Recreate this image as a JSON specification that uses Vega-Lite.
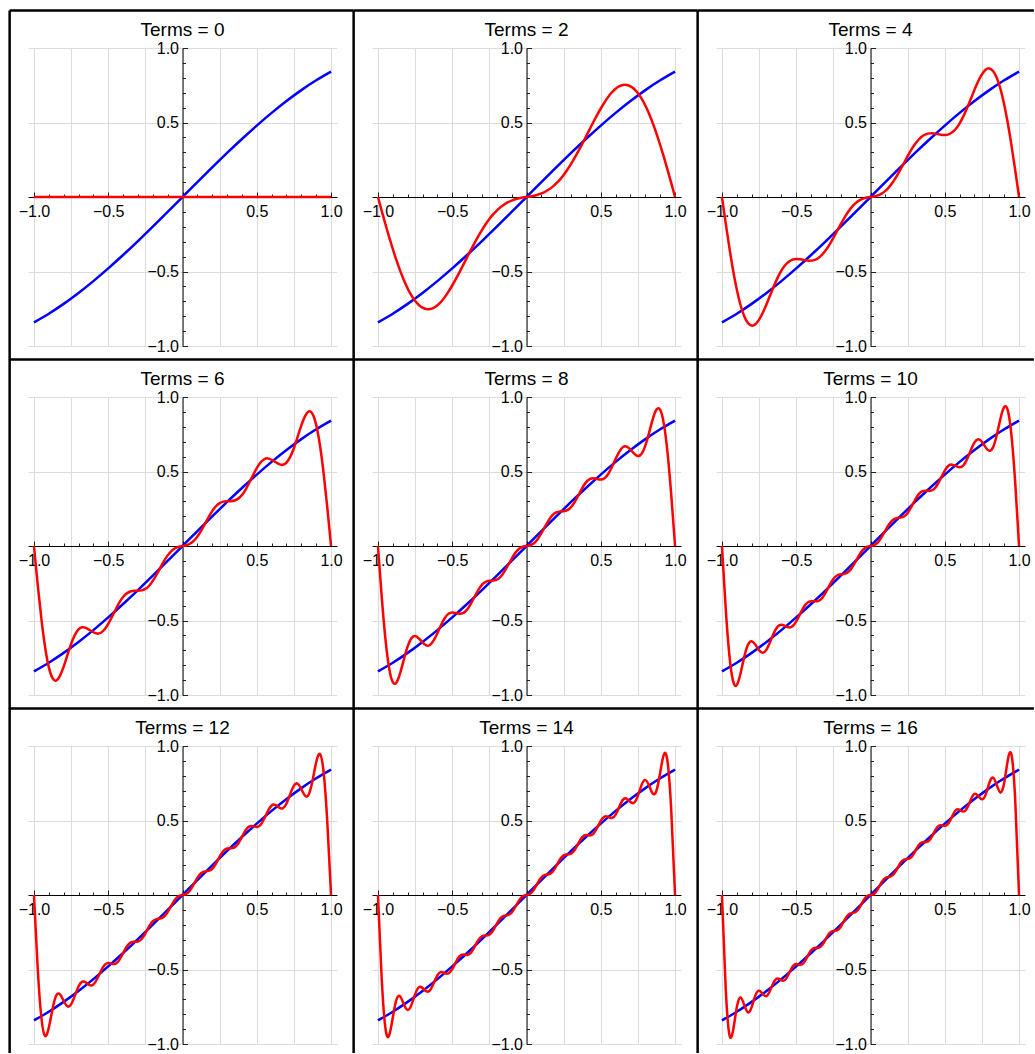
{
"$schema": "https://vega.github.io/schema/vega-lite/v6.json",
"padding": {"left": 8, "top": 8, "right": 0, "bottom": 0},
"background": "white",
"config": {"view": {"stroke": null}, "axis": {"labelFont": "Liberation Sans", "title": null}, "header": {"labels": false, "labelExpr": "''", "labelFontSize": 1, "labelPadding": 0, "titlePadding": 0, "labelColor": "transparent"}},
"data": {"values": [
{"N":0,"s":"f","label":"Terms = 0"},{"N":2,"s":"f","label":"Terms = 2"},{"N":4,"s":"f","label":"Terms = 4"},{"N":6,"s":"f","label":"Terms = 6"},{"N":8,"s":"f","label":"Terms = 8"},{"N":10,"s":"f","label":"Terms = 10"},{"N":12,"s":"f","label":"Terms = 12"},{"N":14,"s":"f","label":"Terms = 14"},{"N":16,"s":"f","label":"Terms = 16"},
{"N":0,"s":"b","x":-1,"y":-0.8415},{"N":0,"s":"b","x":-0.9,"y":-0.7833},{"N":0,"s":"b","x":-0.8,"y":-0.7174},{"N":0,"s":"b","x":-0.7,"y":-0.6442},{"N":0,"s":"b","x":-0.6,"y":-0.5646},{"N":0,"s":"b","x":-0.5,"y":-0.4794},{"N":0,"s":"b","x":-0.4,"y":-0.3894},{"N":0,"s":"b","x":-0.3,"y":-0.2955},{"N":0,"s":"b","x":-0.2,"y":-0.1987},{"N":0,"s":"b","x":-0.1,"y":-0.0998},{"N":0,"s":"b","x":0,"y":0},{"N":0,"s":"b","x":0.1,"y":0.0998},{"N":0,"s":"b","x":0.2,"y":0.1987},{"N":0,"s":"b","x":0.3,"y":0.2955},{"N":0,"s":"b","x":0.4,"y":0.3894},{"N":0,"s":"b","x":0.5,"y":0.4794},{"N":0,"s":"b","x":0.6,"y":0.5646},{"N":0,"s":"b","x":0.7,"y":0.6442},{"N":0,"s":"b","x":0.8,"y":0.7174},{"N":0,"s":"b","x":0.9,"y":0.7833},{"N":0,"s":"b","x":1,"y":0.8415},
{"N":2,"s":"b","x":-1,"y":-0.8415},{"N":2,"s":"b","x":-0.9,"y":-0.7833},{"N":2,"s":"b","x":-0.8,"y":-0.7174},{"N":2,"s":"b","x":-0.7,"y":-0.6442},{"N":2,"s":"b","x":-0.6,"y":-0.5646},{"N":2,"s":"b","x":-0.5,"y":-0.4794},{"N":2,"s":"b","x":-0.4,"y":-0.3894},{"N":2,"s":"b","x":-0.3,"y":-0.2955},{"N":2,"s":"b","x":-0.2,"y":-0.1987},{"N":2,"s":"b","x":-0.1,"y":-0.0998},{"N":2,"s":"b","x":0,"y":0},{"N":2,"s":"b","x":0.1,"y":0.0998},{"N":2,"s":"b","x":0.2,"y":0.1987},{"N":2,"s":"b","x":0.3,"y":0.2955},{"N":2,"s":"b","x":0.4,"y":0.3894},{"N":2,"s":"b","x":0.5,"y":0.4794},{"N":2,"s":"b","x":0.6,"y":0.5646},{"N":2,"s":"b","x":0.7,"y":0.6442},{"N":2,"s":"b","x":0.8,"y":0.7174},{"N":2,"s":"b","x":0.9,"y":0.7833},{"N":2,"s":"b","x":1,"y":0.8415},
{"N":4,"s":"b","x":-1,"y":-0.8415},{"N":4,"s":"b","x":-0.9,"y":-0.7833},{"N":4,"s":"b","x":-0.8,"y":-0.7174},{"N":4,"s":"b","x":-0.7,"y":-0.6442},{"N":4,"s":"b","x":-0.6,"y":-0.5646},{"N":4,"s":"b","x":-0.5,"y":-0.4794},{"N":4,"s":"b","x":-0.4,"y":-0.3894},{"N":4,"s":"b","x":-0.3,"y":-0.2955},{"N":4,"s":"b","x":-0.2,"y":-0.1987},{"N":4,"s":"b","x":-0.1,"y":-0.0998},{"N":4,"s":"b","x":0,"y":0},{"N":4,"s":"b","x":0.1,"y":0.0998},{"N":4,"s":"b","x":0.2,"y":0.1987},{"N":4,"s":"b","x":0.3,"y":0.2955},{"N":4,"s":"b","x":0.4,"y":0.3894},{"N":4,"s":"b","x":0.5,"y":0.4794},{"N":4,"s":"b","x":0.6,"y":0.5646},{"N":4,"s":"b","x":0.7,"y":0.6442},{"N":4,"s":"b","x":0.8,"y":0.7174},{"N":4,"s":"b","x":0.9,"y":0.7833},{"N":4,"s":"b","x":1,"y":0.8415},
{"N":6,"s":"b","x":-1,"y":-0.8415},{"N":6,"s":"b","x":-0.9,"y":-0.7833},{"N":6,"s":"b","x":-0.8,"y":-0.7174},{"N":6,"s":"b","x":-0.7,"y":-0.6442},{"N":6,"s":"b","x":-0.6,"y":-0.5646},{"N":6,"s":"b","x":-0.5,"y":-0.4794},{"N":6,"s":"b","x":-0.4,"y":-0.3894},{"N":6,"s":"b","x":-0.3,"y":-0.2955},{"N":6,"s":"b","x":-0.2,"y":-0.1987},{"N":6,"s":"b","x":-0.1,"y":-0.0998},{"N":6,"s":"b","x":0,"y":0},{"N":6,"s":"b","x":0.1,"y":0.0998},{"N":6,"s":"b","x":0.2,"y":0.1987},{"N":6,"s":"b","x":0.3,"y":0.2955},{"N":6,"s":"b","x":0.4,"y":0.3894},{"N":6,"s":"b","x":0.5,"y":0.4794},{"N":6,"s":"b","x":0.6,"y":0.5646},{"N":6,"s":"b","x":0.7,"y":0.6442},{"N":6,"s":"b","x":0.8,"y":0.7174},{"N":6,"s":"b","x":0.9,"y":0.7833},{"N":6,"s":"b","x":1,"y":0.8415},
{"N":8,"s":"b","x":-1,"y":-0.8415},{"N":8,"s":"b","x":-0.9,"y":-0.7833},{"N":8,"s":"b","x":-0.8,"y":-0.7174},{"N":8,"s":"b","x":-0.7,"y":-0.6442},{"N":8,"s":"b","x":-0.6,"y":-0.5646},{"N":8,"s":"b","x":-0.5,"y":-0.4794},{"N":8,"s":"b","x":-0.4,"y":-0.3894},{"N":8,"s":"b","x":-0.3,"y":-0.2955},{"N":8,"s":"b","x":-0.2,"y":-0.1987},{"N":8,"s":"b","x":-0.1,"y":-0.0998},{"N":8,"s":"b","x":0,"y":0},{"N":8,"s":"b","x":0.1,"y":0.0998},{"N":8,"s":"b","x":0.2,"y":0.1987},{"N":8,"s":"b","x":0.3,"y":0.2955},{"N":8,"s":"b","x":0.4,"y":0.3894},{"N":8,"s":"b","x":0.5,"y":0.4794},{"N":8,"s":"b","x":0.6,"y":0.5646},{"N":8,"s":"b","x":0.7,"y":0.6442},{"N":8,"s":"b","x":0.8,"y":0.7174},{"N":8,"s":"b","x":0.9,"y":0.7833},{"N":8,"s":"b","x":1,"y":0.8415},
{"N":10,"s":"b","x":-1,"y":-0.8415},{"N":10,"s":"b","x":-0.9,"y":-0.7833},{"N":10,"s":"b","x":-0.8,"y":-0.7174},{"N":10,"s":"b","x":-0.7,"y":-0.6442},{"N":10,"s":"b","x":-0.6,"y":-0.5646},{"N":10,"s":"b","x":-0.5,"y":-0.4794},{"N":10,"s":"b","x":-0.4,"y":-0.3894},{"N":10,"s":"b","x":-0.3,"y":-0.2955},{"N":10,"s":"b","x":-0.2,"y":-0.1987},{"N":10,"s":"b","x":-0.1,"y":-0.0998},{"N":10,"s":"b","x":0,"y":0},{"N":10,"s":"b","x":0.1,"y":0.0998},{"N":10,"s":"b","x":0.2,"y":0.1987},{"N":10,"s":"b","x":0.3,"y":0.2955},{"N":10,"s":"b","x":0.4,"y":0.3894},{"N":10,"s":"b","x":0.5,"y":0.4794},{"N":10,"s":"b","x":0.6,"y":0.5646},{"N":10,"s":"b","x":0.7,"y":0.6442},{"N":10,"s":"b","x":0.8,"y":0.7174},{"N":10,"s":"b","x":0.9,"y":0.7833},{"N":10,"s":"b","x":1,"y":0.8415},
{"N":12,"s":"b","x":-1,"y":-0.8415},{"N":12,"s":"b","x":-0.9,"y":-0.7833},{"N":12,"s":"b","x":-0.8,"y":-0.7174},{"N":12,"s":"b","x":-0.7,"y":-0.6442},{"N":12,"s":"b","x":-0.6,"y":-0.5646},{"N":12,"s":"b","x":-0.5,"y":-0.4794},{"N":12,"s":"b","x":-0.4,"y":-0.3894},{"N":12,"s":"b","x":-0.3,"y":-0.2955},{"N":12,"s":"b","x":-0.2,"y":-0.1987},{"N":12,"s":"b","x":-0.1,"y":-0.0998},{"N":12,"s":"b","x":0,"y":0},{"N":12,"s":"b","x":0.1,"y":0.0998},{"N":12,"s":"b","x":0.2,"y":0.1987},{"N":12,"s":"b","x":0.3,"y":0.2955},{"N":12,"s":"b","x":0.4,"y":0.3894},{"N":12,"s":"b","x":0.5,"y":0.4794},{"N":12,"s":"b","x":0.6,"y":0.5646},{"N":12,"s":"b","x":0.7,"y":0.6442},{"N":12,"s":"b","x":0.8,"y":0.7174},{"N":12,"s":"b","x":0.9,"y":0.7833},{"N":12,"s":"b","x":1,"y":0.8415},
{"N":14,"s":"b","x":-1,"y":-0.8415},{"N":14,"s":"b","x":-0.9,"y":-0.7833},{"N":14,"s":"b","x":-0.8,"y":-0.7174},{"N":14,"s":"b","x":-0.7,"y":-0.6442},{"N":14,"s":"b","x":-0.6,"y":-0.5646},{"N":14,"s":"b","x":-0.5,"y":-0.4794},{"N":14,"s":"b","x":-0.4,"y":-0.3894},{"N":14,"s":"b","x":-0.3,"y":-0.2955},{"N":14,"s":"b","x":-0.2,"y":-0.1987},{"N":14,"s":"b","x":-0.1,"y":-0.0998},{"N":14,"s":"b","x":0,"y":0},{"N":14,"s":"b","x":0.1,"y":0.0998},{"N":14,"s":"b","x":0.2,"y":0.1987},{"N":14,"s":"b","x":0.3,"y":0.2955},{"N":14,"s":"b","x":0.4,"y":0.3894},{"N":14,"s":"b","x":0.5,"y":0.4794},{"N":14,"s":"b","x":0.6,"y":0.5646},{"N":14,"s":"b","x":0.7,"y":0.6442},{"N":14,"s":"b","x":0.8,"y":0.7174},{"N":14,"s":"b","x":0.9,"y":0.7833},{"N":14,"s":"b","x":1,"y":0.8415},
{"N":16,"s":"b","x":-1,"y":-0.8415},{"N":16,"s":"b","x":-0.9,"y":-0.7833},{"N":16,"s":"b","x":-0.8,"y":-0.7174},{"N":16,"s":"b","x":-0.7,"y":-0.6442},{"N":16,"s":"b","x":-0.6,"y":-0.5646},{"N":16,"s":"b","x":-0.5,"y":-0.4794},{"N":16,"s":"b","x":-0.4,"y":-0.3894},{"N":16,"s":"b","x":-0.3,"y":-0.2955},{"N":16,"s":"b","x":-0.2,"y":-0.1987},{"N":16,"s":"b","x":-0.1,"y":-0.0998},{"N":16,"s":"b","x":0,"y":0},{"N":16,"s":"b","x":0.1,"y":0.0998},{"N":16,"s":"b","x":0.2,"y":0.1987},{"N":16,"s":"b","x":0.3,"y":0.2955},{"N":16,"s":"b","x":0.4,"y":0.3894},{"N":16,"s":"b","x":0.5,"y":0.4794},{"N":16,"s":"b","x":0.6,"y":0.5646},{"N":16,"s":"b","x":0.7,"y":0.6442},{"N":16,"s":"b","x":0.8,"y":0.7174},{"N":16,"s":"b","x":0.9,"y":0.7833},{"N":16,"s":"b","x":1,"y":0.8415},
{"N":0,"s":"r","x":-1,"y":0},{"N":0,"s":"r","x":0,"y":0},{"N":0,"s":"r","x":1,"y":0},
{"N":2,"s":"r","x":-1,"y":0},{"N":2,"s":"r","x":-0.975,"y":-0.091},{"N":2,"s":"r","x":-0.95,"y":-0.181},{"N":2,"s":"r","x":-0.925,"y":-0.267},{"N":2,"s":"r","x":-0.9,"y":-0.349},{"N":2,"s":"r","x":-0.875,"y":-0.426},{"N":2,"s":"r","x":-0.85,"y":-0.496},{"N":2,"s":"r","x":-0.825,"y":-0.559},{"N":2,"s":"r","x":-0.8,"y":-0.614},{"N":2,"s":"r","x":-0.775,"y":-0.66},{"N":2,"s":"r","x":-0.75,"y":-0.697},{"N":2,"s":"r","x":-0.725,"y":-0.725},{"N":2,"s":"r","x":-0.7,"y":-0.743},{"N":2,"s":"r","x":-0.675,"y":-0.752},{"N":2,"s":"r","x":-0.65,"y":-0.752},{"N":2,"s":"r","x":-0.625,"y":-0.744},{"N":2,"s":"r","x":-0.6,"y":-0.727},{"N":2,"s":"r","x":-0.575,"y":-0.703},{"N":2,"s":"r","x":-0.55,"y":-0.672},{"N":2,"s":"r","x":-0.525,"y":-0.635},{"N":2,"s":"r","x":-0.5,"y":-0.594},{"N":2,"s":"r","x":-0.475,"y":-0.55},{"N":2,"s":"r","x":-0.45,"y":-0.503},{"N":2,"s":"r","x":-0.425,"y":-0.454},{"N":2,"s":"r","x":-0.4,"y":-0.405},{"N":2,"s":"r","x":-0.375,"y":-0.356},{"N":2,"s":"r","x":-0.35,"y":-0.309},{"N":2,"s":"r","x":-0.325,"y":-0.264},{"N":2,"s":"r","x":-0.3,"y":-0.222},{"N":2,"s":"r","x":-0.275,"y":-0.183},{"N":2,"s":"r","x":-0.25,"y":-0.148},{"N":2,"s":"r","x":-0.225,"y":-0.117},{"N":2,"s":"r","x":-0.2,"y":-0.091},{"N":2,"s":"r","x":-0.175,"y":-0.068},{"N":2,"s":"r","x":-0.15,"y":-0.05},{"N":2,"s":"r","x":-0.125,"y":-0.035},{"N":2,"s":"r","x":-0.1,"y":-0.024},{"N":2,"s":"r","x":-0.075,"y":-0.015},{"N":2,"s":"r","x":-0.05,"y":-0.009},{"N":2,"s":"r","x":-0.025,"y":-0.004},{"N":2,"s":"r","x":0,"y":0},{"N":2,"s":"r","x":0.025,"y":0.004},{"N":2,"s":"r","x":0.05,"y":0.009},{"N":2,"s":"r","x":0.075,"y":0.015},{"N":2,"s":"r","x":0.1,"y":0.024},{"N":2,"s":"r","x":0.125,"y":0.035},{"N":2,"s":"r","x":0.15,"y":0.05},{"N":2,"s":"r","x":0.175,"y":0.068},{"N":2,"s":"r","x":0.2,"y":0.091},{"N":2,"s":"r","x":0.225,"y":0.117},{"N":2,"s":"r","x":0.25,"y":0.148},{"N":2,"s":"r","x":0.275,"y":0.183},{"N":2,"s":"r","x":0.3,"y":0.222},{"N":2,"s":"r","x":0.325,"y":0.264},{"N":2,"s":"r","x":0.35,"y":0.309},{"N":2,"s":"r","x":0.375,"y":0.356},{"N":2,"s":"r","x":0.4,"y":0.405},{"N":2,"s":"r","x":0.425,"y":0.454},{"N":2,"s":"r","x":0.45,"y":0.503},{"N":2,"s":"r","x":0.475,"y":0.55},{"N":2,"s":"r","x":0.5,"y":0.594},{"N":2,"s":"r","x":0.525,"y":0.635},{"N":2,"s":"r","x":0.55,"y":0.672},{"N":2,"s":"r","x":0.575,"y":0.703},{"N":2,"s":"r","x":0.6,"y":0.727},{"N":2,"s":"r","x":0.625,"y":0.744},{"N":2,"s":"r","x":0.65,"y":0.752},{"N":2,"s":"r","x":0.675,"y":0.752},{"N":2,"s":"r","x":0.7,"y":0.743},{"N":2,"s":"r","x":0.725,"y":0.725},{"N":2,"s":"r","x":0.75,"y":0.697},{"N":2,"s":"r","x":0.775,"y":0.66},{"N":2,"s":"r","x":0.8,"y":0.614},{"N":2,"s":"r","x":0.825,"y":0.559},{"N":2,"s":"r","x":0.85,"y":0.496},{"N":2,"s":"r","x":0.875,"y":0.426},{"N":2,"s":"r","x":0.9,"y":0.349},{"N":2,"s":"r","x":0.925,"y":0.267},{"N":2,"s":"r","x":0.95,"y":0.181},{"N":2,"s":"r","x":0.975,"y":0.091},{"N":2,"s":"r","x":1,"y":0},
{"N":4,"s":"r","x":-1,"y":0},{"N":4,"s":"r","x":-0.975,"y":-0.174},{"N":4,"s":"r","x":-0.95,"y":-0.34},{"N":4,"s":"r","x":-0.925,"y":-0.491},{"N":4,"s":"r","x":-0.9,"y":-0.621},{"N":4,"s":"r","x":-0.875,"y":-0.725},{"N":4,"s":"r","x":-0.85,"y":-0.8},{"N":4,"s":"r","x":-0.825,"y":-0.845},{"N":4,"s":"r","x":-0.8,"y":-0.863},{"N":4,"s":"r","x":-0.775,"y":-0.854},{"N":4,"s":"r","x":-0.75,"y":-0.823},{"N":4,"s":"r","x":-0.725,"y":-0.777},{"N":4,"s":"r","x":-0.7,"y":-0.72},{"N":4,"s":"r","x":-0.675,"y":-0.658},{"N":4,"s":"r","x":-0.65,"y":-0.597},{"N":4,"s":"r","x":-0.625,"y":-0.541},{"N":4,"s":"r","x":-0.6,"y":-0.494},{"N":4,"s":"r","x":-0.575,"y":-0.458},{"N":4,"s":"r","x":-0.55,"y":-0.434},{"N":4,"s":"r","x":-0.525,"y":-0.42},{"N":4,"s":"r","x":-0.5,"y":-0.416},{"N":4,"s":"r","x":-0.475,"y":-0.418},{"N":4,"s":"r","x":-0.45,"y":-0.422},{"N":4,"s":"r","x":-0.425,"y":-0.427},{"N":4,"s":"r","x":-0.4,"y":-0.427},{"N":4,"s":"r","x":-0.375,"y":-0.422},{"N":4,"s":"r","x":-0.35,"y":-0.409},{"N":4,"s":"r","x":-0.325,"y":-0.386},{"N":4,"s":"r","x":-0.3,"y":-0.356},{"N":4,"s":"r","x":-0.275,"y":-0.318},{"N":4,"s":"r","x":-0.25,"y":-0.274},{"N":4,"s":"r","x":-0.225,"y":-0.228},{"N":4,"s":"r","x":-0.2,"y":-0.182},{"N":4,"s":"r","x":-0.175,"y":-0.138},{"N":4,"s":"r","x":-0.15,"y":-0.099},{"N":4,"s":"r","x":-0.125,"y":-0.066},{"N":4,"s":"r","x":-0.1,"y":-0.041},{"N":4,"s":"r","x":-0.075,"y":-0.023},{"N":4,"s":"r","x":-0.05,"y":-0.011},{"N":4,"s":"r","x":-0.025,"y":-0.004},{"N":4,"s":"r","x":0,"y":0},{"N":4,"s":"r","x":0.025,"y":0.004},{"N":4,"s":"r","x":0.05,"y":0.011},{"N":4,"s":"r","x":0.075,"y":0.023},{"N":4,"s":"r","x":0.1,"y":0.041},{"N":4,"s":"r","x":0.125,"y":0.066},{"N":4,"s":"r","x":0.15,"y":0.099},{"N":4,"s":"r","x":0.175,"y":0.138},{"N":4,"s":"r","x":0.2,"y":0.182},{"N":4,"s":"r","x":0.225,"y":0.228},{"N":4,"s":"r","x":0.25,"y":0.274},{"N":4,"s":"r","x":0.275,"y":0.318},{"N":4,"s":"r","x":0.3,"y":0.356},{"N":4,"s":"r","x":0.325,"y":0.386},{"N":4,"s":"r","x":0.35,"y":0.409},{"N":4,"s":"r","x":0.375,"y":0.422},{"N":4,"s":"r","x":0.4,"y":0.427},{"N":4,"s":"r","x":0.425,"y":0.427},{"N":4,"s":"r","x":0.45,"y":0.422},{"N":4,"s":"r","x":0.475,"y":0.418},{"N":4,"s":"r","x":0.5,"y":0.416},{"N":4,"s":"r","x":0.525,"y":0.42},{"N":4,"s":"r","x":0.55,"y":0.434},{"N":4,"s":"r","x":0.575,"y":0.458},{"N":4,"s":"r","x":0.6,"y":0.494},{"N":4,"s":"r","x":0.625,"y":0.541},{"N":4,"s":"r","x":0.65,"y":0.597},{"N":4,"s":"r","x":0.675,"y":0.658},{"N":4,"s":"r","x":0.7,"y":0.72},{"N":4,"s":"r","x":0.725,"y":0.777},{"N":4,"s":"r","x":0.75,"y":0.823},{"N":4,"s":"r","x":0.775,"y":0.854},{"N":4,"s":"r","x":0.8,"y":0.863},{"N":4,"s":"r","x":0.825,"y":0.845},{"N":4,"s":"r","x":0.85,"y":0.8},{"N":4,"s":"r","x":0.875,"y":0.725},{"N":4,"s":"r","x":0.9,"y":0.621},{"N":4,"s":"r","x":0.925,"y":0.491},{"N":4,"s":"r","x":0.95,"y":0.34},{"N":4,"s":"r","x":0.975,"y":0.174},{"N":4,"s":"r","x":1,"y":0},
{"N":6,"s":"r","x":-1,"y":0},{"N":6,"s":"r","x":-0.975,"y":-0.256},{"N":6,"s":"r","x":-0.95,"y":-0.488},{"N":6,"s":"r","x":-0.925,"y":-0.678},{"N":6,"s":"r","x":-0.9,"y":-0.813},{"N":6,"s":"r","x":-0.875,"y":-0.887},{"N":6,"s":"r","x":-0.85,"y":-0.903},{"N":6,"s":"r","x":-0.825,"y":-0.872},{"N":6,"s":"r","x":-0.8,"y":-0.81},{"N":6,"s":"r","x":-0.775,"y":-0.733},{"N":6,"s":"r","x":-0.75,"y":-0.658},{"N":6,"s":"r","x":-0.725,"y":-0.598},{"N":6,"s":"r","x":-0.7,"y":-0.56},{"N":6,"s":"r","x":-0.675,"y":-0.545},{"N":6,"s":"r","x":-0.65,"y":-0.549},{"N":6,"s":"r","x":-0.625,"y":-0.564},{"N":6,"s":"r","x":-0.6,"y":-0.579},{"N":6,"s":"r","x":-0.575,"y":-0.588},{"N":6,"s":"r","x":-0.55,"y":-0.582},{"N":6,"s":"r","x":-0.525,"y":-0.56},{"N":6,"s":"r","x":-0.5,"y":-0.523},{"N":6,"s":"r","x":-0.475,"y":-0.476},{"N":6,"s":"r","x":-0.45,"y":-0.426},{"N":6,"s":"r","x":-0.425,"y":-0.379},{"N":6,"s":"r","x":-0.4,"y":-0.342},{"N":6,"s":"r","x":-0.375,"y":-0.318},{"N":6,"s":"r","x":-0.35,"y":-0.305},{"N":6,"s":"r","x":-0.325,"y":-0.301},{"N":6,"s":"r","x":-0.3,"y":-0.301},{"N":6,"s":"r","x":-0.275,"y":-0.298},{"N":6,"s":"r","x":-0.25,"y":-0.288},{"N":6,"s":"r","x":-0.225,"y":-0.267},{"N":6,"s":"r","x":-0.2,"y":-0.234},{"N":6,"s":"r","x":-0.175,"y":-0.193},{"N":6,"s":"r","x":-0.15,"y":-0.147},{"N":6,"s":"r","x":-0.125,"y":-0.102},{"N":6,"s":"r","x":-0.1,"y":-0.063},{"N":6,"s":"r","x":-0.075,"y":-0.034},{"N":6,"s":"r","x":-0.05,"y":-0.015},{"N":6,"s":"r","x":-0.025,"y":-0.005},{"N":6,"s":"r","x":0,"y":0},{"N":6,"s":"r","x":0.025,"y":0.005},{"N":6,"s":"r","x":0.05,"y":0.015},{"N":6,"s":"r","x":0.075,"y":0.034},{"N":6,"s":"r","x":0.1,"y":0.063},{"N":6,"s":"r","x":0.125,"y":0.102},{"N":6,"s":"r","x":0.15,"y":0.147},{"N":6,"s":"r","x":0.175,"y":0.193},{"N":6,"s":"r","x":0.2,"y":0.234},{"N":6,"s":"r","x":0.225,"y":0.267},{"N":6,"s":"r","x":0.25,"y":0.288},{"N":6,"s":"r","x":0.275,"y":0.298},{"N":6,"s":"r","x":0.3,"y":0.301},{"N":6,"s":"r","x":0.325,"y":0.301},{"N":6,"s":"r","x":0.35,"y":0.305},{"N":6,"s":"r","x":0.375,"y":0.318},{"N":6,"s":"r","x":0.4,"y":0.342},{"N":6,"s":"r","x":0.425,"y":0.379},{"N":6,"s":"r","x":0.45,"y":0.426},{"N":6,"s":"r","x":0.475,"y":0.476},{"N":6,"s":"r","x":0.5,"y":0.523},{"N":6,"s":"r","x":0.525,"y":0.56},{"N":6,"s":"r","x":0.55,"y":0.582},{"N":6,"s":"r","x":0.575,"y":0.588},{"N":6,"s":"r","x":0.6,"y":0.579},{"N":6,"s":"r","x":0.625,"y":0.564},{"N":6,"s":"r","x":0.65,"y":0.549},{"N":6,"s":"r","x":0.675,"y":0.545},{"N":6,"s":"r","x":0.7,"y":0.56},{"N":6,"s":"r","x":0.725,"y":0.598},{"N":6,"s":"r","x":0.75,"y":0.658},{"N":6,"s":"r","x":0.775,"y":0.733},{"N":6,"s":"r","x":0.8,"y":0.81},{"N":6,"s":"r","x":0.825,"y":0.872},{"N":6,"s":"r","x":0.85,"y":0.903},{"N":6,"s":"r","x":0.875,"y":0.887},{"N":6,"s":"r","x":0.9,"y":0.813},{"N":6,"s":"r","x":0.925,"y":0.678},{"N":6,"s":"r","x":0.95,"y":0.488},{"N":6,"s":"r","x":0.975,"y":0.256},{"N":6,"s":"r","x":1,"y":0},
{"N":8,"s":"r","x":-1,"y":0},{"N":8,"s":"r","x":-0.975,"y":-0.335},{"N":8,"s":"r","x":-0.95,"y":-0.62},{"N":8,"s":"r","x":-0.925,"y":-0.818},{"N":8,"s":"r","x":-0.9,"y":-0.914},{"N":8,"s":"r","x":-0.875,"y":-0.916},{"N":8,"s":"r","x":-0.85,"y":-0.852},{"N":8,"s":"r","x":-0.825,"y":-0.759},{"N":8,"s":"r","x":-0.8,"y":-0.674},{"N":8,"s":"r","x":-0.775,"y":-0.619},{"N":8,"s":"r","x":-0.75,"y":-0.604},{"N":8,"s":"r","x":-0.725,"y":-0.62},{"N":8,"s":"r","x":-0.7,"y":-0.647},{"N":8,"s":"r","x":-0.675,"y":-0.667},{"N":8,"s":"r","x":-0.65,"y":-0.664},{"N":8,"s":"r","x":-0.625,"y":-0.634},{"N":8,"s":"r","x":-0.6,"y":-0.585},{"N":8,"s":"r","x":-0.575,"y":-0.53},{"N":8,"s":"r","x":-0.55,"y":-0.483},{"N":8,"s":"r","x":-0.525,"y":-0.455},{"N":8,"s":"r","x":-0.5,"y":-0.446},{"N":8,"s":"r","x":-0.475,"y":-0.45},{"N":8,"s":"r","x":-0.45,"y":-0.455},{"N":8,"s":"r","x":-0.425,"y":-0.449},{"N":8,"s":"r","x":-0.4,"y":-0.427},{"N":8,"s":"r","x":-0.375,"y":-0.388},{"N":8,"s":"r","x":-0.35,"y":-0.341},{"N":8,"s":"r","x":-0.325,"y":-0.296},{"N":8,"s":"r","x":-0.3,"y":-0.261},{"N":8,"s":"r","x":-0.275,"y":-0.241},{"N":8,"s":"r","x":-0.25,"y":-0.234},{"N":8,"s":"r","x":-0.225,"y":-0.232},{"N":8,"s":"r","x":-0.2,"y":-0.225},{"N":8,"s":"r","x":-0.175,"y":-0.207},{"N":8,"s":"r","x":-0.15,"y":-0.174},{"N":8,"s":"r","x":-0.125,"y":-0.131},{"N":8,"s":"r","x":-0.1,"y":-0.086},{"N":8,"s":"r","x":-0.075,"y":-0.046},{"N":8,"s":"r","x":-0.05,"y":-0.019},{"N":8,"s":"r","x":-0.025,"y":-0.005},{"N":8,"s":"r","x":0,"y":0},{"N":8,"s":"r","x":0.025,"y":0.005},{"N":8,"s":"r","x":0.05,"y":0.019},{"N":8,"s":"r","x":0.075,"y":0.046},{"N":8,"s":"r","x":0.1,"y":0.086},{"N":8,"s":"r","x":0.125,"y":0.131},{"N":8,"s":"r","x":0.15,"y":0.174},{"N":8,"s":"r","x":0.175,"y":0.207},{"N":8,"s":"r","x":0.2,"y":0.225},{"N":8,"s":"r","x":0.225,"y":0.232},{"N":8,"s":"r","x":0.25,"y":0.234},{"N":8,"s":"r","x":0.275,"y":0.241},{"N":8,"s":"r","x":0.3,"y":0.261},{"N":8,"s":"r","x":0.325,"y":0.296},{"N":8,"s":"r","x":0.35,"y":0.341},{"N":8,"s":"r","x":0.375,"y":0.388},{"N":8,"s":"r","x":0.4,"y":0.427},{"N":8,"s":"r","x":0.425,"y":0.449},{"N":8,"s":"r","x":0.45,"y":0.455},{"N":8,"s":"r","x":0.475,"y":0.45},{"N":8,"s":"r","x":0.5,"y":0.446},{"N":8,"s":"r","x":0.525,"y":0.455},{"N":8,"s":"r","x":0.55,"y":0.483},{"N":8,"s":"r","x":0.575,"y":0.53},{"N":8,"s":"r","x":0.6,"y":0.585},{"N":8,"s":"r","x":0.625,"y":0.634},{"N":8,"s":"r","x":0.65,"y":0.664},{"N":8,"s":"r","x":0.675,"y":0.667},{"N":8,"s":"r","x":0.7,"y":0.647},{"N":8,"s":"r","x":0.725,"y":0.62},{"N":8,"s":"r","x":0.75,"y":0.604},{"N":8,"s":"r","x":0.775,"y":0.619},{"N":8,"s":"r","x":0.8,"y":0.674},{"N":8,"s":"r","x":0.825,"y":0.759},{"N":8,"s":"r","x":0.85,"y":0.852},{"N":8,"s":"r","x":0.875,"y":0.916},{"N":8,"s":"r","x":0.9,"y":0.914},{"N":8,"s":"r","x":0.925,"y":0.818},{"N":8,"s":"r","x":0.95,"y":0.62},{"N":8,"s":"r","x":0.975,"y":0.335},{"N":8,"s":"r","x":1,"y":0},
{"N":10,"s":"r","x":-1,"y":0},{"N":10,"s":"r","x":-0.975,"y":-0.412},{"N":10,"s":"r","x":-0.95,"y":-0.733},{"N":10,"s":"r","x":-0.925,"y":-0.907},{"N":10,"s":"r","x":-0.9,"y":-0.933},{"N":10,"s":"r","x":-0.875,"y":-0.856},{"N":10,"s":"r","x":-0.85,"y":-0.745},{"N":10,"s":"r","x":-0.825,"y":-0.663},{"N":10,"s":"r","x":-0.8,"y":-0.639},{"N":10,"s":"r","x":-0.775,"y":-0.662},{"N":10,"s":"r","x":-0.75,"y":-0.7},{"N":10,"s":"r","x":-0.725,"y":-0.717},{"N":10,"s":"r","x":-0.7,"y":-0.696},{"N":10,"s":"r","x":-0.675,"y":-0.643},{"N":10,"s":"r","x":-0.65,"y":-0.583},{"N":10,"s":"r","x":-0.625,"y":-0.541},{"N":10,"s":"r","x":-0.6,"y":-0.528},{"N":10,"s":"r","x":-0.575,"y":-0.537},{"N":10,"s":"r","x":-0.55,"y":-0.546},{"N":10,"s":"r","x":-0.525,"y":-0.538},{"N":10,"s":"r","x":-0.5,"y":-0.506},{"N":10,"s":"r","x":-0.475,"y":-0.458},{"N":10,"s":"r","x":-0.45,"y":-0.411},{"N":10,"s":"r","x":-0.425,"y":-0.38},{"N":10,"s":"r","x":-0.4,"y":-0.37},{"N":10,"s":"r","x":-0.375,"y":-0.371},{"N":10,"s":"r","x":-0.35,"y":-0.368},{"N":10,"s":"r","x":-0.325,"y":-0.348},{"N":10,"s":"r","x":-0.3,"y":-0.309},{"N":10,"s":"r","x":-0.275,"y":-0.263},{"N":10,"s":"r","x":-0.25,"y":-0.222},{"N":10,"s":"r","x":-0.225,"y":-0.198},{"N":10,"s":"r","x":-0.2,"y":-0.19},{"N":10,"s":"r","x":-0.175,"y":-0.187},{"N":10,"s":"r","x":-0.15,"y":-0.175},{"N":10,"s":"r","x":-0.125,"y":-0.146},{"N":10,"s":"r","x":-0.1,"y":-0.104},{"N":10,"s":"r","x":-0.075,"y":-0.059},{"N":10,"s":"r","x":-0.05,"y":-0.025},{"N":10,"s":"r","x":-0.025,"y":-0.006},{"N":10,"s":"r","x":0,"y":0},{"N":10,"s":"r","x":0.025,"y":0.006},{"N":10,"s":"r","x":0.05,"y":0.025},{"N":10,"s":"r","x":0.075,"y":0.059},{"N":10,"s":"r","x":0.1,"y":0.104},{"N":10,"s":"r","x":0.125,"y":0.146},{"N":10,"s":"r","x":0.15,"y":0.175},{"N":10,"s":"r","x":0.175,"y":0.187},{"N":10,"s":"r","x":0.2,"y":0.19},{"N":10,"s":"r","x":0.225,"y":0.198},{"N":10,"s":"r","x":0.25,"y":0.222},{"N":10,"s":"r","x":0.275,"y":0.263},{"N":10,"s":"r","x":0.3,"y":0.309},{"N":10,"s":"r","x":0.325,"y":0.348},{"N":10,"s":"r","x":0.35,"y":0.368},{"N":10,"s":"r","x":0.375,"y":0.371},{"N":10,"s":"r","x":0.4,"y":0.37},{"N":10,"s":"r","x":0.425,"y":0.38},{"N":10,"s":"r","x":0.45,"y":0.411},{"N":10,"s":"r","x":0.475,"y":0.458},{"N":10,"s":"r","x":0.5,"y":0.506},{"N":10,"s":"r","x":0.525,"y":0.538},{"N":10,"s":"r","x":0.55,"y":0.546},{"N":10,"s":"r","x":0.575,"y":0.537},{"N":10,"s":"r","x":0.6,"y":0.528},{"N":10,"s":"r","x":0.625,"y":0.541},{"N":10,"s":"r","x":0.65,"y":0.583},{"N":10,"s":"r","x":0.675,"y":0.643},{"N":10,"s":"r","x":0.7,"y":0.696},{"N":10,"s":"r","x":0.725,"y":0.717},{"N":10,"s":"r","x":0.75,"y":0.7},{"N":10,"s":"r","x":0.775,"y":0.662},{"N":10,"s":"r","x":0.8,"y":0.639},{"N":10,"s":"r","x":0.825,"y":0.663},{"N":10,"s":"r","x":0.85,"y":0.745},{"N":10,"s":"r","x":0.875,"y":0.856},{"N":10,"s":"r","x":0.9,"y":0.933},{"N":10,"s":"r","x":0.925,"y":0.907},{"N":10,"s":"r","x":0.95,"y":0.733},{"N":10,"s":"r","x":0.975,"y":0.412},{"N":10,"s":"r","x":1,"y":0},
{"N":12,"s":"r","x":-1,"y":0},{"N":12,"s":"r","x":-0.975,"y":-0.485},{"N":12,"s":"r","x":-0.95,"y":-0.823},{"N":12,"s":"r","x":-0.925,"y":-0.946},{"N":12,"s":"r","x":-0.9,"y":-0.891},{"N":12,"s":"r","x":-0.875,"y":-0.766},{"N":12,"s":"r","x":-0.85,"y":-0.675},{"N":12,"s":"r","x":-0.825,"y":-0.666},{"N":12,"s":"r","x":-0.8,"y":-0.71},{"N":12,"s":"r","x":-0.775,"y":-0.747},{"N":12,"s":"r","x":-0.75,"y":-0.734},{"N":12,"s":"r","x":-0.725,"y":-0.677},{"N":12,"s":"r","x":-0.7,"y":-0.614},{"N":12,"s":"r","x":-0.675,"y":-0.582},{"N":12,"s":"r","x":-0.65,"y":-0.587},{"N":12,"s":"r","x":-0.625,"y":-0.605},{"N":12,"s":"r","x":-0.6,"y":-0.601},{"N":12,"s":"r","x":-0.575,"y":-0.564},{"N":12,"s":"r","x":-0.55,"y":-0.512},{"N":12,"s":"r","x":-0.525,"y":-0.471},{"N":12,"s":"r","x":-0.5,"y":-0.457},{"N":12,"s":"r","x":-0.475,"y":-0.462},{"N":12,"s":"r","x":-0.45,"y":-0.461},{"N":12,"s":"r","x":-0.425,"y":-0.435},{"N":12,"s":"r","x":-0.4,"y":-0.39},{"N":12,"s":"r","x":-0.375,"y":-0.345},{"N":12,"s":"r","x":-0.35,"y":-0.32},{"N":12,"s":"r","x":-0.325,"y":-0.314},{"N":12,"s":"r","x":-0.3,"y":-0.312},{"N":12,"s":"r","x":-0.275,"y":-0.295},{"N":12,"s":"r","x":-0.25,"y":-0.257},{"N":12,"s":"r","x":-0.225,"y":-0.211},{"N":12,"s":"r","x":-0.2,"y":-0.176},{"N":12,"s":"r","x":-0.175,"y":-0.162},{"N":12,"s":"r","x":-0.15,"y":-0.158},{"N":12,"s":"r","x":-0.125,"y":-0.146},{"N":12,"s":"r","x":-0.1,"y":-0.115},{"N":12,"s":"r","x":-0.075,"y":-0.071},{"N":12,"s":"r","x":-0.05,"y":-0.03},{"N":12,"s":"r","x":-0.025,"y":-0.007},{"N":12,"s":"r","x":0,"y":0},{"N":12,"s":"r","x":0.025,"y":0.007},{"N":12,"s":"r","x":0.05,"y":0.03},{"N":12,"s":"r","x":0.075,"y":0.071},{"N":12,"s":"r","x":0.1,"y":0.115},{"N":12,"s":"r","x":0.125,"y":0.146},{"N":12,"s":"r","x":0.15,"y":0.158},{"N":12,"s":"r","x":0.175,"y":0.162},{"N":12,"s":"r","x":0.2,"y":0.176},{"N":12,"s":"r","x":0.225,"y":0.211},{"N":12,"s":"r","x":0.25,"y":0.257},{"N":12,"s":"r","x":0.275,"y":0.295},{"N":12,"s":"r","x":0.3,"y":0.312},{"N":12,"s":"r","x":0.325,"y":0.314},{"N":12,"s":"r","x":0.35,"y":0.32},{"N":12,"s":"r","x":0.375,"y":0.345},{"N":12,"s":"r","x":0.4,"y":0.39},{"N":12,"s":"r","x":0.425,"y":0.435},{"N":12,"s":"r","x":0.45,"y":0.461},{"N":12,"s":"r","x":0.475,"y":0.462},{"N":12,"s":"r","x":0.5,"y":0.457},{"N":12,"s":"r","x":0.525,"y":0.471},{"N":12,"s":"r","x":0.55,"y":0.512},{"N":12,"s":"r","x":0.575,"y":0.564},{"N":12,"s":"r","x":0.6,"y":0.601},{"N":12,"s":"r","x":0.625,"y":0.605},{"N":12,"s":"r","x":0.65,"y":0.587},{"N":12,"s":"r","x":0.675,"y":0.582},{"N":12,"s":"r","x":0.7,"y":0.614},{"N":12,"s":"r","x":0.725,"y":0.677},{"N":12,"s":"r","x":0.75,"y":0.734},{"N":12,"s":"r","x":0.775,"y":0.747},{"N":12,"s":"r","x":0.8,"y":0.71},{"N":12,"s":"r","x":0.825,"y":0.666},{"N":12,"s":"r","x":0.85,"y":0.675},{"N":12,"s":"r","x":0.875,"y":0.766},{"N":12,"s":"r","x":0.9,"y":0.891},{"N":12,"s":"r","x":0.925,"y":0.946},{"N":12,"s":"r","x":0.95,"y":0.823},{"N":12,"s":"r","x":0.975,"y":0.485},{"N":12,"s":"r","x":1,"y":0},
{"N":14,"s":"r","x":-1,"y":0},{"N":14,"s":"r","x":-0.975,"y":-0.554},{"N":14,"s":"r","x":-0.95,"y":-0.891},{"N":14,"s":"r","x":-0.925,"y":-0.944},{"N":14,"s":"r","x":-0.9,"y":-0.822},{"N":14,"s":"r","x":-0.875,"y":-0.701},{"N":14,"s":"r","x":-0.85,"y":-0.681},{"N":14,"s":"r","x":-0.825,"y":-0.735},{"N":14,"s":"r","x":-0.8,"y":-0.771},{"N":14,"s":"r","x":-0.775,"y":-0.739},{"N":14,"s":"r","x":-0.75,"y":-0.667},{"N":14,"s":"r","x":-0.725,"y":-0.62},{"N":14,"s":"r","x":-0.7,"y":-0.624},{"N":14,"s":"r","x":-0.675,"y":-0.646},{"N":14,"s":"r","x":-0.65,"y":-0.64},{"N":14,"s":"r","x":-0.625,"y":-0.593},{"N":14,"s":"r","x":-0.6,"y":-0.54},{"N":14,"s":"r","x":-0.575,"y":-0.517},{"N":14,"s":"r","x":-0.55,"y":-0.524},{"N":14,"s":"r","x":-0.525,"y":-0.526},{"N":14,"s":"r","x":-0.5,"y":-0.498},{"N":14,"s":"r","x":-0.475,"y":-0.45},{"N":14,"s":"r","x":-0.45,"y":-0.411},{"N":14,"s":"r","x":-0.425,"y":-0.4},{"N":14,"s":"r","x":-0.4,"y":-0.402},{"N":14,"s":"r","x":-0.375,"y":-0.388},{"N":14,"s":"r","x":-0.35,"y":-0.348},{"N":14,"s":"r","x":-0.325,"y":-0.303},{"N":14,"s":"r","x":-0.3,"y":-0.277},{"N":14,"s":"r","x":-0.275,"y":-0.272},{"N":14,"s":"r","x":-0.25,"y":-0.266},{"N":14,"s":"r","x":-0.225,"y":-0.238},{"N":14,"s":"r","x":-0.2,"y":-0.193},{"N":14,"s":"r","x":-0.175,"y":-0.155},{"N":14,"s":"r","x":-0.15,"y":-0.139},{"N":14,"s":"r","x":-0.125,"y":-0.135},{"N":14,"s":"r","x":-0.1,"y":-0.118},{"N":14,"s":"r","x":-0.075,"y":-0.08},{"N":14,"s":"r","x":-0.05,"y":-0.036},{"N":14,"s":"r","x":-0.025,"y":-0.008},{"N":14,"s":"r","x":0,"y":0},{"N":14,"s":"r","x":0.025,"y":0.008},{"N":14,"s":"r","x":0.05,"y":0.036},{"N":14,"s":"r","x":0.075,"y":0.08},{"N":14,"s":"r","x":0.1,"y":0.118},{"N":14,"s":"r","x":0.125,"y":0.135},{"N":14,"s":"r","x":0.15,"y":0.139},{"N":14,"s":"r","x":0.175,"y":0.155},{"N":14,"s":"r","x":0.2,"y":0.193},{"N":14,"s":"r","x":0.225,"y":0.238},{"N":14,"s":"r","x":0.25,"y":0.266},{"N":14,"s":"r","x":0.275,"y":0.272},{"N":14,"s":"r","x":0.3,"y":0.277},{"N":14,"s":"r","x":0.325,"y":0.303},{"N":14,"s":"r","x":0.35,"y":0.348},{"N":14,"s":"r","x":0.375,"y":0.388},{"N":14,"s":"r","x":0.4,"y":0.402},{"N":14,"s":"r","x":0.425,"y":0.4},{"N":14,"s":"r","x":0.45,"y":0.411},{"N":14,"s":"r","x":0.475,"y":0.45},{"N":14,"s":"r","x":0.5,"y":0.498},{"N":14,"s":"r","x":0.525,"y":0.526},{"N":14,"s":"r","x":0.55,"y":0.524},{"N":14,"s":"r","x":0.575,"y":0.517},{"N":14,"s":"r","x":0.6,"y":0.54},{"N":14,"s":"r","x":0.625,"y":0.593},{"N":14,"s":"r","x":0.65,"y":0.64},{"N":14,"s":"r","x":0.675,"y":0.646},{"N":14,"s":"r","x":0.7,"y":0.624},{"N":14,"s":"r","x":0.725,"y":0.62},{"N":14,"s":"r","x":0.75,"y":0.667},{"N":14,"s":"r","x":0.775,"y":0.739},{"N":14,"s":"r","x":0.8,"y":0.771},{"N":14,"s":"r","x":0.825,"y":0.735},{"N":14,"s":"r","x":0.85,"y":0.681},{"N":14,"s":"r","x":0.875,"y":0.701},{"N":14,"s":"r","x":0.9,"y":0.822},{"N":14,"s":"r","x":0.925,"y":0.944},{"N":14,"s":"r","x":0.95,"y":0.891},{"N":14,"s":"r","x":0.975,"y":0.554},{"N":14,"s":"r","x":1,"y":0},
{"N":16,"s":"r","x":-1,"y":0},{"N":16,"s":"r","x":-0.975,"y":-0.619},{"N":16,"s":"r","x":-0.95,"y":-0.936},{"N":16,"s":"r","x":-0.925,"y":-0.91},{"N":16,"s":"r","x":-0.9,"y":-0.754},{"N":16,"s":"r","x":-0.875,"y":-0.687},{"N":16,"s":"r","x":-0.85,"y":-0.738},{"N":16,"s":"r","x":-0.825,"y":-0.788},{"N":16,"s":"r","x":-0.8,"y":-0.752},{"N":16,"s":"r","x":-0.775,"y":-0.674},{"N":16,"s":"r","x":-0.75,"y":-0.642},{"N":16,"s":"r","x":-0.725,"y":-0.665},{"N":16,"s":"r","x":-0.7,"y":-0.679},{"N":16,"s":"r","x":-0.675,"y":-0.64},{"N":16,"s":"r","x":-0.65,"y":-0.583},{"N":16,"s":"r","x":-0.625,"y":-0.56},{"N":16,"s":"r","x":-0.6,"y":-0.572},{"N":16,"s":"r","x":-0.575,"y":-0.57},{"N":16,"s":"r","x":-0.55,"y":-0.529},{"N":16,"s":"r","x":-0.525,"y":-0.481},{"N":16,"s":"r","x":-0.5,"y":-0.463},{"N":16,"s":"r","x":-0.475,"y":-0.468},{"N":16,"s":"r","x":-0.45,"y":-0.456},{"N":16,"s":"r","x":-0.425,"y":-0.414},{"N":16,"s":"r","x":-0.4,"y":-0.371},{"N":16,"s":"r","x":-0.375,"y":-0.355},{"N":16,"s":"r","x":-0.35,"y":-0.355},{"N":16,"s":"r","x":-0.325,"y":-0.336},{"N":16,"s":"r","x":-0.3,"y":-0.293},{"N":16,"s":"r","x":-0.275,"y":-0.254},{"N":16,"s":"r","x":-0.25,"y":-0.241},{"N":16,"s":"r","x":-0.225,"y":-0.237},{"N":16,"s":"r","x":-0.2,"y":-0.213},{"N":16,"s":"r","x":-0.175,"y":-0.168},{"N":16,"s":"r","x":-0.15,"y":-0.133},{"N":16,"s":"r","x":-0.125,"y":-0.121},{"N":16,"s":"r","x":-0.1,"y":-0.114},{"N":16,"s":"r","x":-0.075,"y":-0.086},{"N":16,"s":"r","x":-0.05,"y":-0.041},{"N":16,"s":"r","x":-0.025,"y":-0.009},{"N":16,"s":"r","x":0,"y":0},{"N":16,"s":"r","x":0.025,"y":0.009},{"N":16,"s":"r","x":0.05,"y":0.041},{"N":16,"s":"r","x":0.075,"y":0.086},{"N":16,"s":"r","x":0.1,"y":0.114},{"N":16,"s":"r","x":0.125,"y":0.121},{"N":16,"s":"r","x":0.15,"y":0.133},{"N":16,"s":"r","x":0.175,"y":0.168},{"N":16,"s":"r","x":0.2,"y":0.213},{"N":16,"s":"r","x":0.225,"y":0.237},{"N":16,"s":"r","x":0.25,"y":0.241},{"N":16,"s":"r","x":0.275,"y":0.254},{"N":16,"s":"r","x":0.3,"y":0.293},{"N":16,"s":"r","x":0.325,"y":0.336},{"N":16,"s":"r","x":0.35,"y":0.355},{"N":16,"s":"r","x":0.375,"y":0.355},{"N":16,"s":"r","x":0.4,"y":0.371},{"N":16,"s":"r","x":0.425,"y":0.414},{"N":16,"s":"r","x":0.45,"y":0.456},{"N":16,"s":"r","x":0.475,"y":0.468},{"N":16,"s":"r","x":0.5,"y":0.463},{"N":16,"s":"r","x":0.525,"y":0.481},{"N":16,"s":"r","x":0.55,"y":0.529},{"N":16,"s":"r","x":0.575,"y":0.57},{"N":16,"s":"r","x":0.6,"y":0.572},{"N":16,"s":"r","x":0.625,"y":0.56},{"N":16,"s":"r","x":0.65,"y":0.583},{"N":16,"s":"r","x":0.675,"y":0.64},{"N":16,"s":"r","x":0.7,"y":0.679},{"N":16,"s":"r","x":0.725,"y":0.665},{"N":16,"s":"r","x":0.75,"y":0.642},{"N":16,"s":"r","x":0.775,"y":0.674},{"N":16,"s":"r","x":0.8,"y":0.752},{"N":16,"s":"r","x":0.825,"y":0.788},{"N":16,"s":"r","x":0.85,"y":0.738},{"N":16,"s":"r","x":0.875,"y":0.687},{"N":16,"s":"r","x":0.9,"y":0.754},{"N":16,"s":"r","x":0.925,"y":0.91},{"N":16,"s":"r","x":0.95,"y":0.936},{"N":16,"s":"r","x":0.975,"y":0.619},{"N":16,"s":"r","x":1,"y":0}
]},
"facet": {"field": "N", "type": "ordinal", "header": {"title": null, "labels": false, "labelExpr": "''", "labelFontSize": 1, "labelPadding": 0, "labelColor": "transparent"}},
"columns": 3,
"spacing": {"row": 51, "column": 35},
"bounds": "flush",
"resolve": {"axis": {"x": "independent", "y": "independent"}},
"spec": {
  "width": 309,
  "height": 298,
  "resolve": {"axis": {"x": "independent", "y": "independent"}},
  "layer": [
    {
      "transform": [{"filter": "datum.s == 'f' && datum.N < 12"}],
      "mark": {"type": "rule", "stroke": "black", "strokeWidth": 2.5},
      "encoding": {
        "x": {"datum": -1.1636, "type": "quantitative", "scale": {"domain": [-1.04, 1.04], "nice": false, "zero": false}, "axis": null},
        "y": {"datum": 1.252, "type": "quantitative", "scale": {"domain": [-1, 1], "nice": false, "zero": false}, "axis": null},
        "y2": {"datum": -1.094}
      }
    },
    {
      "transform": [{"filter": "datum.s == 'f' && datum.N >= 12"}],
      "mark": {"type": "rule", "stroke": "black", "strokeWidth": 2.5},
      "encoding": {
        "x": {"datum": -1.1636, "type": "quantitative", "scale": {"domain": [-1.04, 1.04], "nice": false, "zero": false}, "axis": null},
        "y": {"datum": 1.252, "type": "quantitative", "scale": {"domain": [-1, 1], "nice": false, "zero": false}, "axis": null},
        "y2": {"datum": -1.06}
      }
    },
    {
      "transform": [{"filter": "datum.s == 'f' && datum.N % 6 != 4"}],
      "mark": {"type": "rule", "stroke": "black", "strokeWidth": 2.5},
      "encoding": {
        "x": {"datum": -1.1636, "type": "quantitative", "scale": {"domain": [-1.04, 1.04], "nice": false, "zero": false}, "axis": null},
        "x2": {"datum": 1.152},
        "y": {"datum": 1.252, "type": "quantitative", "scale": {"domain": [-1, 1], "nice": false, "zero": false}, "axis": null}
      }
    },
    {
      "transform": [{"filter": "datum.s == 'f' && datum.N % 6 == 4"}],
      "mark": {"type": "rule", "stroke": "black", "strokeWidth": 2.5},
      "encoding": {
        "x": {"datum": -1.1636, "type": "quantitative", "scale": {"domain": [-1.04, 1.04], "nice": false, "zero": false}, "axis": null},
        "x2": {"datum": 1.10},
        "y": {"datum": 1.252, "type": "quantitative", "scale": {"domain": [-1, 1], "nice": false, "zero": false}, "axis": null}
      }
    },
    {
      "transform": [{"filter": "datum.s == 'b'"}],
      "mark": {"type": "line", "color": "#0000ff", "strokeWidth": 2.5, "interpolate": "natural"},
      "encoding": {
        "x": {"field": "x", "type": "quantitative", "scale": {"domain": [-1.04, 1.04], "nice": false, "zero": false},
              "axis": {"orient": "bottom", "values": [-1, -0.75, -0.5, -0.25, 0, 0.25, 0.5, 0.75, 1], "grid": true, "gridColor": "#dcdcdc", "gridWidth": 1, "domain": false, "ticks": false, "labels": false, "title": null}},
        "y": {"field": "y", "type": "quantitative", "scale": {"domain": [-1, 1], "nice": false, "zero": false},
              "axis": {"orient": "left", "values": [-1, -0.5, 0.5, 1], "grid": true, "gridColor": "#dcdcdc", "gridWidth": 1, "domain": false, "ticks": false, "labels": false, "title": null}}
      }
    },
    {
      "transform": [{"filter": "datum.s == 'r'"}],
      "mark": {"type": "line", "color": "#ff0000", "strokeWidth": 2.5, "interpolate": "natural"},
      "encoding": {
        "x": {"field": "x", "type": "quantitative", "scale": {"domain": [-1.04, 1.04], "nice": false, "zero": false},
              "axis": {"orient": "bottom", "offset": -149, "values": [-1, -0.9, -0.8, -0.7, -0.6, -0.5, -0.4, -0.3, -0.2, -0.1, 0, 0.1, 0.2, 0.3, 0.4, 0.5, 0.6, 0.7, 0.8, 0.9, 1], "grid": false, "labels": false, "domain": true, "domainColor": "#000000", "domainWidth": 1, "ticks": true, "tickColor": "#222222", "tickWidth": 1, "tickSize": {"condition": {"test": "abs(datum.value*2 - round(datum.value*2)) < 0.01", "value": -5}, "value": -3}, "title": null}},
        "y": {"field": "y", "type": "quantitative", "scale": {"domain": [-1, 1], "nice": false, "zero": false},
              "axis": {"orient": "left", "offset": -154.5, "values": [-1, -0.9, -0.8, -0.7, -0.6, -0.5, -0.4, -0.3, -0.2, -0.1, 0, 0.1, 0.2, 0.3, 0.4, 0.5, 0.6, 0.7, 0.8, 0.9, 1], "grid": false, "labels": false, "domain": true, "domainColor": "#000000", "domainWidth": 1, "ticks": true, "tickColor": "#222222", "tickWidth": 1, "tickSize": {"condition": {"test": "abs(datum.value*2 - round(datum.value*2)) < 0.01", "value": -5}, "value": -3}, "title": null}}
      }
    },
    {
      "transform": [{"filter": "datum.s == 'f'"}],
      "mark": {"type": "text", "font": "Liberation Sans", "fontSize": 19, "color": "#000000", "align": "center", "baseline": "alphabetic"},
      "encoding": {
        "x": {"datum": 0, "type": "quantitative", "scale": {"domain": [-1.04, 1.04], "nice": false, "zero": false},
              "axis": {"orient": "bottom", "offset": -149, "values": [-1, -0.5, 0.5, 1], "format": ".1f", "grid": false, "domain": false, "ticks": false, "labels": true, "labelFont": "Liberation Sans", "labelFontSize": 16, "labelColor": "#000000", "labelPadding": 6, "labelFlush": false, "labelOverlap": false, "title": null}},
        "y": {"datum": 1.0805, "type": "quantitative", "scale": {"domain": [-1, 1], "nice": false, "zero": false},
              "axis": {"orient": "left", "offset": -154.5, "values": [-1, -0.5, 0.5, 1], "format": ".1f", "grid": false, "domain": false, "ticks": false, "labels": true, "labelFont": "Liberation Sans", "labelFontSize": 16, "labelColor": "#000000", "labelPadding": 4, "labelFlush": false, "labelOverlap": false, "title": null}},
        "text": {"field": "label"}
      }
    }
  ]
}
}
